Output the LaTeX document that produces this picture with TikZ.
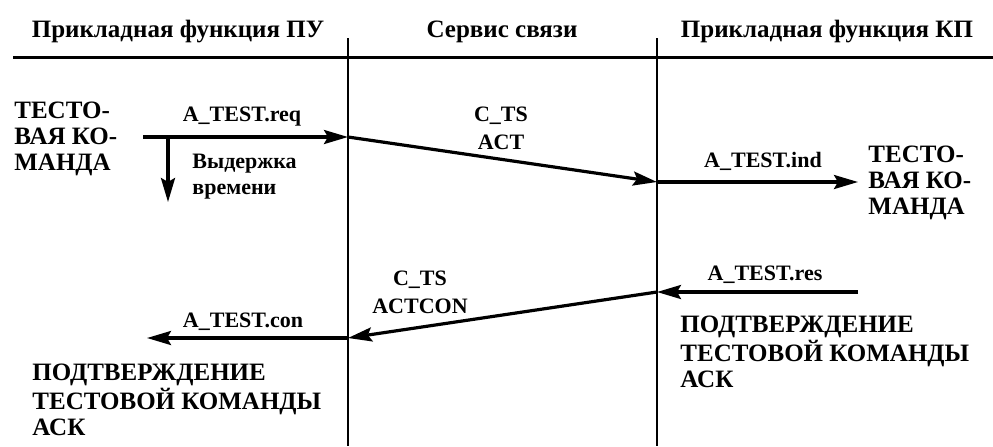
\documentclass[tikz,border=0pt]{standalone}
\usepackage{fontspec}
\newfontfamily\lsf{Liberation Serif}
\usetikzlibrary{arrows.meta}
\begin{document}
\begin{tikzpicture}[x=0.5pt,y=-0.5pt,
  hdr/.style={font=\lsf\bfseries\fontsize{12.5}{13}\selectfont, inner sep=0pt, anchor=base},
  lbl/.style={font=\lsf\bfseries\fontsize{11}{13}\selectfont, inner sep=0pt, anchor=base},
  big/.style={font=\lsf\bfseries\fontsize{12.5}{13}\selectfont, inner sep=0pt, anchor=base west},
  lane/.style={line width=1.3pt},
  msg/.style={line width=1.6pt, -{Stealth[length=12pt,width=7pt,inset=2pt]}}]
\useasboundingbox (0,0) rectangle (993,446);
% headers
\node[hdr] (h1) at (178,37) {Прикладная функция ПУ};
\node[hdr] (h2) at (502,37) {Сервис связи};
\node[hdr] (h3) at (827,37) {Прикладная функция КП};
% header rule and lifelines
\coordinate (rl) at (13,57);
\coordinate (rr) at (993,57);
\draw[line width=1.5pt] (rl) -- (rr);
\coordinate (a1) at (348,38);
\coordinate (a2) at (348,446);
\coordinate (b1) at (657,38);
\coordinate (b2) at (657,446);
\draw[lane] (a1) -- (a2);
\draw[lane] (b1) -- (b2);
% first exchange
\coordinate (p0) at (143,137);
\coordinate (pd) at (168,137);
\coordinate (pd2) at (168,202);
\coordinate (p1) at (348,137);
\coordinate (p2) at (657,182);
\coordinate (p3) at (858,182);
\draw[msg] (p0) -- (p1);
\draw[msg] (pd) -- (pd2);
\draw[msg] (p1) -- (p2);
\draw[msg] (p2) -- (p3);
\node[big] (t1) at (14,118) {\begin{tabular}[t]{@{}l@{}}ТЕСТО-\\ВАЯ КО-\\МАНДА\end{tabular}};
\node[lbl] (l1) at (242,121) {A\_TEST.req};
\node[lbl, anchor=base west] (l2) at (192,168) {\begin{tabular}[t]{@{}l@{}}Выдержка\\времени\end{tabular}};
\node[lbl] (l3) at (501,121) {\begin{tabular}[t]{@{}c@{}}C\_TS\\[1pt]ACT\end{tabular}};
\node[lbl] (l4) at (763,167) {A\_TEST.ind};
\node[big] (t2) at (868,162) {\begin{tabular}[t]{@{}l@{}}ТЕСТО-\\ВАЯ КО-\\МАНДА\end{tabular}};
% second exchange
\coordinate (q0) at (858,292);
\coordinate (q1) at (657,292);
\coordinate (q2) at (348,338);
\coordinate (q3) at (147,338);
\draw[msg] (q0) -- (q1);
\draw[msg] (q1) -- (q2);
\draw[msg] (q2) -- (q3);
\node[lbl] (m1) at (765,280) {A\_TEST.res};
\node[lbl] (m2) at (420,285) {\begin{tabular}[t]{@{}c@{}}C\_TS\\[1pt]ACTCON\end{tabular}};
\node[lbl] (m3) at (243,327) {A\_TEST.con};
\node[big] (t3) at (32,380) {\begin{tabular}[t]{@{}l@{}}ПОДТВЕРЖДЕНИЕ\\ТЕСТОВОЙ КОМАНДЫ\\АСК\end{tabular}};
\node[big] (t4) at (680,332) {\begin{tabular}[t]{@{}l@{}}ПОДТВЕРЖДЕНИЕ\\ТЕСТОВОЙ КОМАНДЫ\\АСК\end{tabular}};
\end{tikzpicture}
\end{document}
